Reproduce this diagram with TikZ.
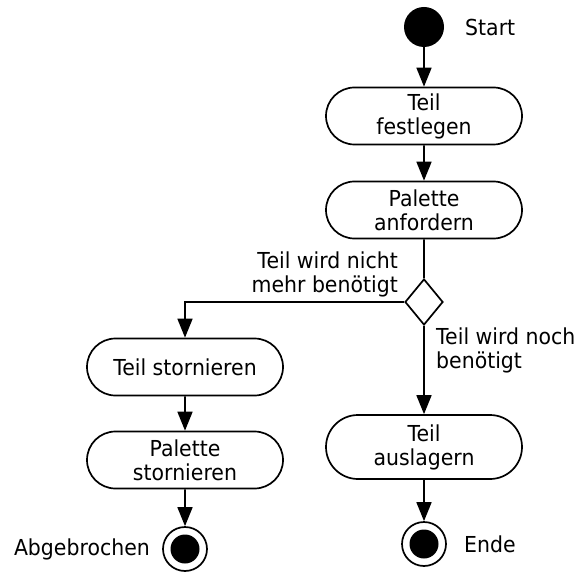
\documentclass[tikz,border=0pt]{standalone}
\usepackage{fontspec}
\setmainfont{DejaVu Sans}[FakeStretch=0.93]
\usetikzlibrary{shapes.misc,shapes.geometric,arrows.meta}
\begin{document}
\begin{tikzpicture}[x=1pt,y=-1pt,
  every node/.style={font=\fontsize{22}{24}\selectfont},
  act/.style={draw,line width=1.7pt,rounded rectangle,minimum width=196pt,minimum height=57pt,align=center,inner sep=0pt},
  dec/.style={draw,line width=1.7pt,diamond,minimum width=38pt,minimum height=46pt,inner sep=0pt},
  startnode/.style={circle,fill=black,minimum size=40pt,inner sep=0pt},
  endnode/.style={circle,draw,line width=1.7pt,minimum size=44pt,inner sep=0pt,
    path picture={\fill (path picture bounding box.center) circle (14.5pt);}},
  flow/.style={line width=1.7pt,-{Triangle[length=19pt,width=15pt]}},
  plain/.style={line width=1.7pt},
  lbl/.style={inner sep=0pt}
]
\useasboundingbox (0,0) rectangle (578,572);
\node[startnode] (start) at (424,27) {};
\node[lbl,anchor=west] (lstart) at (465,27) {Start};
\node[act] (fest) at (424,116) {Teil\\festlegen};
\node[act] (anf) at (424,210) {Palette\\anfordern};
\node[dec] (dec) at (424,302) {};
\node[act] (storn) at (185,367) {Teil stornieren};
\node[act] (pstorn) at (185,460) {Palette\\stornieren};
\node[act,minimum height=64pt] (ausl) at (424,447) {Teil\\auslagern};
\node[endnode] (abg) at (185,549) {};
\node[endnode] (ende) at (424,544) {};
\node[lbl,anchor=east] (labg) at (150,549) {Abgebrochen};
\node[lbl,anchor=west] (lende) at (464,544) {Ende};
\node[lbl,anchor=east,align=right] (lnicht) at (398,274) {Teil wird nicht\\mehr benötigt};
\node[lbl,anchor=west,align=left] (lnoch) at (436,350) {Teil wird noch\\benötigt};
\draw[flow] (start) -- (fest);
\draw[flow] (fest) -- (anf);
\draw[plain] (anf) -- (dec);
\draw[flow] (dec.west) -| (storn);
\draw[flow] (dec) -- (ausl);
\draw[flow] (storn) -- (pstorn);
\draw[flow] (pstorn) -- (abg);
\draw[flow] (ausl) -- (ende);
\end{tikzpicture}
\end{document}
